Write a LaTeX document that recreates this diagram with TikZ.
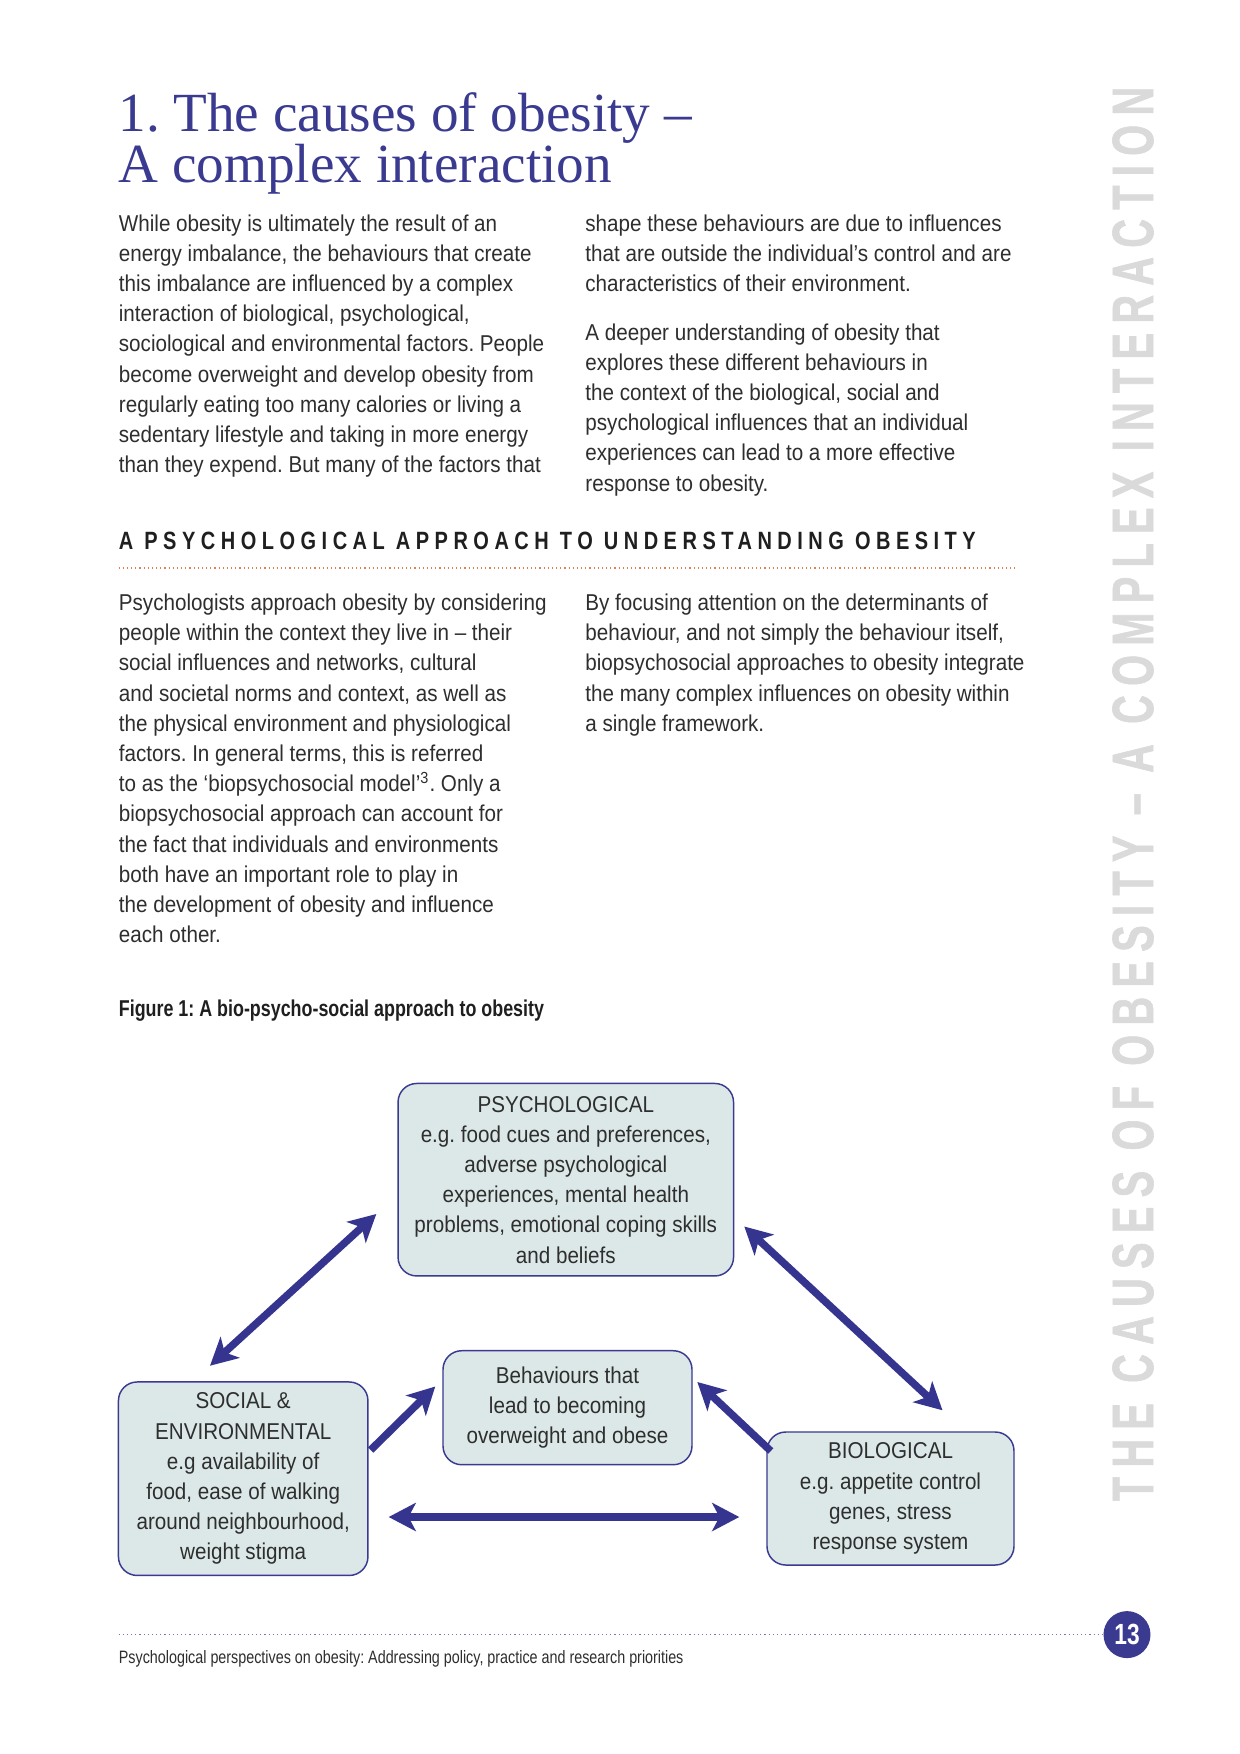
\documentclass[tikz,border=0pt]{standalone}
\usepackage{fontspec}
\setmainfont{Liberation Sans}[FakeStretch=0.9]
\newfontfamily\titlefamily{Liberation Serif}
\newfontfamily\headfamily{Liberation Sans Bold}[FakeStretch=0.8,LetterSpace=22]
\newfontfamily\sidefamily{Liberation Sans Bold}[FakeStretch=0.68,LetterSpace=16,FakeBold=1]
\newfontfamily\narrowfamily{Liberation Sans}[FakeStretch=0.8]
\newfontfamily\narrowboldfamily{Liberation Sans Bold}[FakeStretch=0.78]
\usepackage{tikz}
\usetikzlibrary{calc}
\usetikzlibrary{arrows.meta}
\definecolor{titleblue}{HTML}{3A3A91}
\definecolor{arrowblue}{HTML}{35358F}
\definecolor{boxfill}{HTML}{DCE8E7}
\definecolor{bodytext}{HTML}{2E2E2E}
\definecolor{sidegrey}{HTML}{DADADA}
\definecolor{dotorange}{HTML}{E08050}
\newdimen\pxl
\pxl=0.48pt
\frenchspacing
\tikzset{body/.style={anchor=north west, inner sep=0pt, align=left, text=bodytext, font=\fontsize{11pt}{14.5pt}\selectfont}}
\tikzset{factor/.style={draw=titleblue, fill=boxfill, rounded corners=9pt, line width=0.7pt, align=center, inner sep=0pt, text=bodytext, font=\fontsize{11pt}{14.5pt}\selectfont}}
\tikzset{link/.style={line width=3.6pt, draw=arrowblue, -{Stealth[length=13pt,width=13.5pt,inset=3.5pt]}}}
\tikzset{dlink/.style={link, {Stealth[length=13pt,width=13.5pt,inset=3.5pt]}-{Stealth[length=13pt,width=13.5pt,inset=3.5pt]}}}

\begin{document}
\begin{tikzpicture}[x=0.48pt, y=-0.48pt]

\fill [white] (0,0) rectangle (1240,1754);
\useasboundingbox (0,0) rectangle (1240,1754);

% title
\node [anchor=base west, inner sep=0pt, text=titleblue, font=\titlefamily\fontsize{26.5pt}{26.5pt}\selectfont] (title1) at (118,131) {1. The causes of obesity –};
\node [anchor=base west, inner sep=0pt, text=titleblue, font=\titlefamily\fontsize{26.5pt}{26.5pt}\selectfont] (title2) at (118,182) {A complex interaction};

% first section
\node [body] (cola) at (118.5,214) {While obesity is ultimately the result of an\\
energy imbalance, the behaviours that create\\
this imbalance are influenced by a complex\\
interaction of biological, psychological,\\
sociological and environmental factors. People\\
become overweight and develop obesity from\\
regularly eating too many calories or living a\\
sedentary lifestyle and taking in more energy\\
than they expend. But many of the factors that};
\node [body] (colb) at (585,214) {shape these behaviours are due to influences\\
that are outside the individual’s control and are\\
characteristics of their environment.};
\node [body] (colc) at (585,323) {A deeper understanding of obesity that\\
explores these different behaviours in\\
the context of the biological, social and\\
psychological influences that an individual\\
experiences can lead to a more effective\\
response to obesity.};

% heading
\node [anchor=base west, inner sep=0pt, text=black!88, font=\headfamily\fontsize{12pt}{12pt}\selectfont] (heading) at (118.5,549) {A PSYCHOLOGICAL APPROACH TO UNDERSTANDING OBESITY};
\draw [dotorange, line width=0.7pt, dash pattern=on 0.6pt off 1.4pt] (118.5,568) -- (1015,568);

% second section
\node [body] (cold) at (118.5,593.4) {Psychologists approach obesity by considering\\
people within the context they live in – their\\
social influences and networks, cultural\\
and societal norms and context, as well as\\
the physical environment and physiological\\
factors. In general terms, this is referred\\
to as the ‘biopsychosocial model’\textsuperscript{3}. Only a\\
biopsychosocial approach can account for\\
the fact that individuals and environments\\
both have an important role to play in\\
the development of obesity and influence\\
each other.};
\node [body] (cole) at (585,593.4) {By focusing attention on the determinants of\\
behaviour, and not simply the behaviour itself,\\
biopsychosocial approaches to obesity integrate\\
the many complex influences on obesity within\\
a single framework.};

\node [anchor=base west, inner sep=0pt, text=black!88, font=\narrowboldfamily\fontsize{11pt}{11pt}\selectfont] (caption) at (118.5,1016) {Figure 1: A bio-psycho-social approach to obesity};

% figure
\node [factor, minimum width=335.5\pxl, minimum height=192.5\pxl] (psych) at (565.8,1179.7) {PSYCHOLOGICAL\\
e.g. food cues and preferences,\\
adverse psychological\\
experiences, mental health\\
problems, emotional coping skills\\
and beliefs};
\node [factor, minimum width=249\pxl, minimum height=114\pxl] (behav) at (567.5,1407.7) {Behaviours that\\
lead to becoming\\
overweight and obese};
\node [factor, minimum width=249.5\pxl, minimum height=193.5\pxl] (social) at (243.2,1478.7) {SOCIAL \&\\
ENVIRONMENTAL\\
e.g availability of\\
food, ease of walking\\
around neighbourhood,\\
weight stigma};
\node [factor, minimum width=247\pxl, minimum height=133\pxl] (bio) at (890.5,1498.5) {BIOLOGICAL\\
e.g. appetite control\\
genes, stress\\
response system};

\draw [dlink] ($(psych.west)+(-21,34.3)$) -- ($(social.north)+(-33.2,-15.5)$);
\draw [dlink] ($(psych.east)+(10,46.8)$) -- ($(bio.north)+(52,-21)$);
\draw [link] ($(social.east)+(2,-28.7)$) -- ($(behav.west)+(-7,-21.2)$);
\draw [link] ($(bio.west)+(4.5,-47.5)$) -- ($(behav.east)+(4.6,-25.7)$);
\draw [dlink] ($(social.east)+(20,38.3)$) -- ($(bio.west)+(-27,18.5)$);

% side title
\node [rotate=90, inner sep=0pt, text=sidegrey, font=\sidefamily\fontsize{28pt}{28pt}\selectfont] (side) at (1133,794) {THE CAUSES OF OBESITY – A COMPLEX INTERACTION};

% footer
\node [circle, fill=titleblue, minimum size=47\pxl, inner sep=0pt, text=white, font=\narrowboldfamily\fontsize{14pt}{14pt}\selectfont] (pagenum) at (1127,1634.6) {13};
\draw [titleblue!70, line width=0.6pt, dash pattern=on 0.6pt off 1.4pt] (118.5,1634.6) -- (pagenum.west);
\node [anchor=base west, inner sep=0pt, text=bodytext, font=\narrowfamily\fontsize{8.6pt}{8.6pt}\selectfont] (footer) at (118.5,1663.7) {Psychological perspectives on obesity: Addressing policy, practice and research priorities};

\end{tikzpicture}
\end{document}
